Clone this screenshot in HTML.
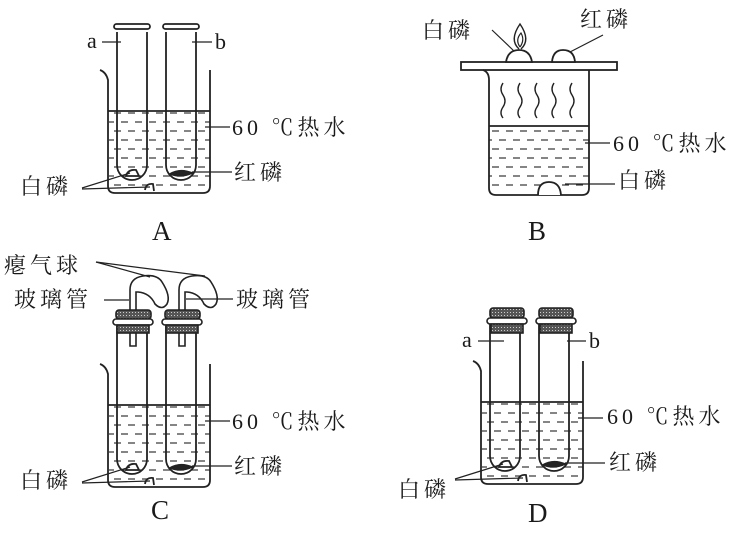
<!DOCTYPE html>
<html><head><meta charset="utf-8"><style>
html,body{margin:0;padding:0;background:#fff;}
svg{display:block;}
text{font-family:"Liberation Serif","Noto Serif CJK SC",serif;fill:#1a1a1a;}
.t{font-size:22px;letter-spacing:4px;}
</style></head><body>
<svg width="738" height="534" viewBox="0 0 738 534" xmlns="http://www.w3.org/2000/svg">
<defs>
<pattern id="w" width="14" height="18" patternUnits="userSpaceOnUse">
<line x1="2" y1="5" x2="9" y2="5" stroke="#333" stroke-width="1.2"/>
<line x1="9" y1="14" x2="16" y2="14" stroke="#333" stroke-width="1.2"/>
<line x1="-5" y1="14" x2="2" y2="14" stroke="#333" stroke-width="1.2"/>
</pattern>
<pattern id="dk" width="3" height="3" patternUnits="userSpaceOnUse">
<rect width="3" height="3" fill="#555"/><rect width="1" height="1" fill="#ccc"/>
</pattern>
<g id="beaker" fill="none" stroke="#222" stroke-width="1.8">
<rect x="109" y="111" width="101" height="80" fill="url(#w)" stroke="none"/>
<path d="M100 70 Q106 72 108 80 L108 186 Q108 193 115 193 L203 193 Q210 193 210 186 L210 70"/>
<line x1="108" y1="111" x2="210" y2="111"/>
<path d="M117 32 L117 165 A15 15 0 0 0 147 165 L147 32"/>
<path d="M166 32 L166 165 A15 15 0 0 0 196 165 L196 32"/>
<path d="M126 176 Q128 169 136 170 L139 176 Z" fill="#fff"/>
<path d="M145 190 Q146 183 153 184 L154 191" fill="#fff"/>
<path d="M170 174 Q180 168 192 173 Q182 178 170 174Z" fill="#222"/>
<line x1="205" y1="127" x2="230" y2="127" stroke-width="1.2"/>
<line x1="192" y1="172" x2="232" y2="172" stroke-width="1.2"/>
<line x1="82" y1="188" x2="130" y2="173" stroke-width="1.2"/>
<line x1="82" y1="189" x2="150" y2="187" stroke-width="1.2"/>
</g>
<g id="lbl">
<text class="t" x="232" y="135">60 ℃热水</text>
<text class="t" x="234" y="180">红磷</text>
<text class="t" x="20" y="194">白磷</text>
</g>
</defs>

<!-- A -->
<use href="#beaker"/>
<use href="#lbl"/>
<g fill="none" stroke="#222" stroke-width="1.8">
<rect x="114" y="24" width="36" height="5" rx="2.5"/>
<rect x="163" y="24" width="36" height="5" rx="2.5"/>
<line x1="102" y1="42" x2="121" y2="42" stroke-width="1.2"/>
<line x1="192" y1="42" x2="212" y2="42" stroke-width="1.2"/>
</g>
<text x="87" y="48" font-size="22">a</text>
<text x="215" y="49" font-size="22">b</text>
<text x="152" y="240" font-size="27">A</text>

<!-- B -->
<g fill="none" stroke="#222" stroke-width="1.8">
<rect x="489" y="126" width="100" height="67" fill="url(#w)" stroke="none"/>
<rect x="461" y="62" width="156" height="8" fill="#fff"/>
<path d="M483 70 Q489 72 489 80 L489 188 Q489 195 496 195 L582 195 Q589 195 589 188 L589 70"/>
<line x1="489" y1="126" x2="589" y2="126"/>
<path d="M506 62 Q508 50 519 50 Q530 50 532 62 Z" fill="#fff"/>
<path d="M552 62 Q553 50 563 50 Q574 50 575 62 Z" fill="#fff"/>
<path d="M519 49 Q509 40 520 24 Q531 40 521 49" stroke-width="1.4"/>
<path d="M520 47 Q515 40 521 33 Q525 40 520 47" stroke-width="1.2"/>
<path d="M538 195 Q538 182 549 182 Q560 182 561 195" fill="#fff"/>
<g stroke-width="1.4">
<path d="M503 83 q-4 6 0 12 q4 6 0 12 q-4 6 0 11"/>
<path d="M520 83 q-4 6 0 12 q4 6 0 12 q-4 6 0 11"/>
<path d="M537 83 q-4 6 0 12 q4 6 0 12 q-4 6 0 11"/>
<path d="M554 83 q-4 6 0 12 q4 6 0 12 q-4 6 0 11"/>
<path d="M572 83 q-4 6 0 12 q4 6 0 12 q-4 6 0 11"/>
</g>
<g stroke-width="1.2">
<line x1="492" y1="30" x2="514" y2="51"/>
<line x1="570" y1="52" x2="603" y2="35"/>
<line x1="585" y1="143" x2="610" y2="143"/>
<line x1="565" y1="184" x2="615" y2="184"/>
</g>
</g>
<text class="t" x="422" y="38">白磷</text>
<text class="t" x="580" y="27">红磷</text>
<text class="t" x="613" y="151">60 ℃热水</text>
<text class="t" x="618" y="188">白磷</text>
<text x="528" y="240" font-size="27">B</text>

<!-- C -->
<g transform="translate(0,294)"><use href="#beaker"/><use href="#lbl"/></g>
<g fill="none" stroke="#222" stroke-width="1.6">
<rect x="116" y="310" width="35" height="9" rx="3" fill="url(#dk)"/>
<rect x="113" y="319" width="40" height="6" rx="3" fill="#fff"/>
<rect x="117" y="325" width="32" height="8" fill="url(#dk)"/>
<rect x="165" y="310" width="35" height="9" rx="3" fill="url(#dk)"/>
<rect x="162" y="319" width="40" height="6" rx="3" fill="#fff"/>
<rect x="166" y="325" width="32" height="8" fill="url(#dk)"/>
<path d="M130 310 L130 290 Q130 278 143 276 Q157 274 162 282 Q171 296 167 304 Q162 311 155 304 Q150 293 138 292 L136 292 L136 310"/>
<path d="M179 310 L179 290 Q179 278 192 276 Q206 274 211 282 Q220 296 216 304 Q211 311 204 304 Q199 293 187 292 L185 292 L185 310"/>
<path d="M130 333 L130 346 L136 346 L136 333"/>
<path d="M179 333 L179 346 L185 346 L185 333"/>
<g stroke-width="1.2">
<line x1="96" y1="262" x2="150" y2="277"/>
<line x1="96" y1="262" x2="205" y2="276"/>
<line x1="104" y1="300" x2="129" y2="300"/>
<line x1="186" y1="299" x2="233" y2="299"/>
</g>
</g>
<text class="t" x="4" y="273">瘪气球</text>
<text class="t" x="14" y="307">玻璃管</text>
<text class="t" x="236" y="307">玻璃管</text>
<text x="151" y="519" font-size="27">C</text>

<!-- D -->
<g transform="translate(373,291)"><use href="#beaker"/></g>
<g fill="none" stroke="#222" stroke-width="1.6">
<rect x="490" y="308" width="34" height="10" rx="3" fill="url(#dk)"/>
<rect x="487" y="318" width="40" height="6" rx="3" fill="#fff"/>
<rect x="491" y="324" width="32" height="9" fill="url(#dk)"/>
<rect x="539" y="308" width="34" height="10" rx="3" fill="url(#dk)"/>
<rect x="536" y="318" width="40" height="6" rx="3" fill="#fff"/>
<rect x="540" y="324" width="32" height="9" fill="url(#dk)"/>
<g stroke-width="1.2">
<line x1="478" y1="341" x2="504" y2="341"/>
<line x1="567" y1="341" x2="586" y2="341"/>
</g>
</g>
<text x="462" y="347" font-size="22">a</text>
<text x="589" y="348" font-size="22">b</text>
<text class="t" x="607" y="424">60 ℃热水</text>
<text class="t" x="609" y="470">红磷</text>
<text class="t" x="398" y="497">白磷</text>
<text x="528" y="522" font-size="27">D</text>
</svg>
</body></html>
